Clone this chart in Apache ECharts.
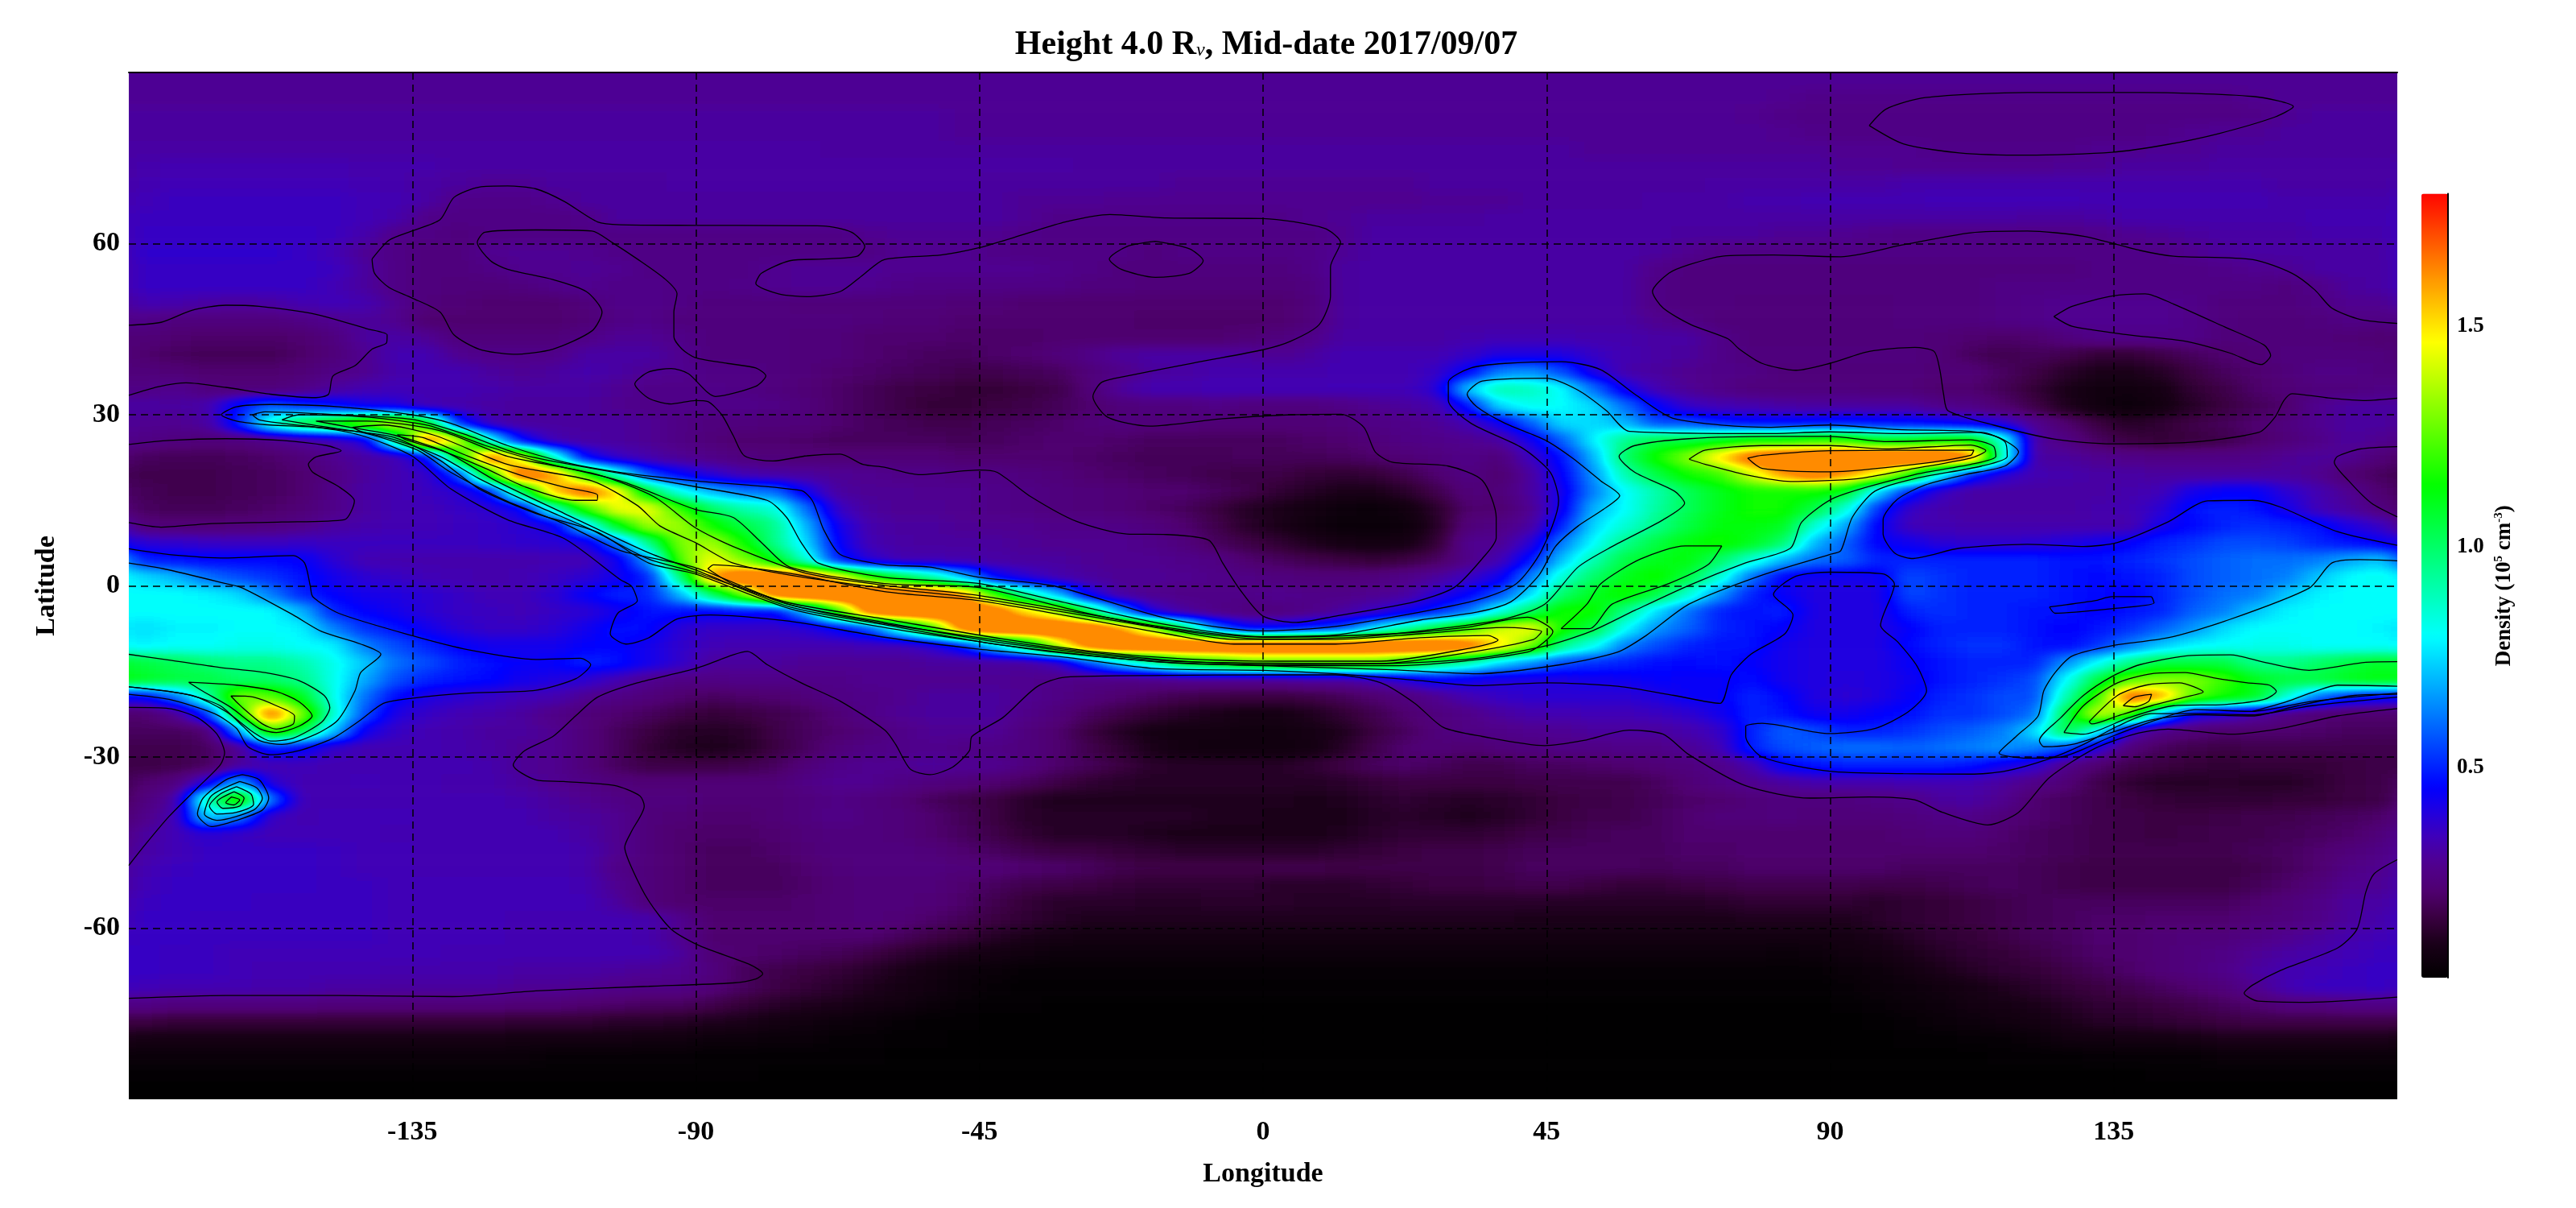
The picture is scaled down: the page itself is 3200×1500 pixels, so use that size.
<!DOCTYPE html>
<html><head><meta charset="utf-8"><title>Height 4.0 Rv density map</title>
<style>html,body{margin:0;padding:0;background:#fff}#chart{width:3200px;height:1500px}</style>
<script src="https://cdn.jsdelivr.net/npm/echarts@6/dist/echarts.min.js"></script>
</head><body>
<svg width="0" height="0" style="position:absolute"><filter id="fieldFilter" x="0" y="0" width="100%" height="100%" color-interpolation-filters="sRGB"><feGaussianBlur stdDeviation="15 7"/><feComponentTransfer><feFuncR id="fr" type="table"/><feFuncG id="fg" type="table"/><feFuncB id="fb" type="table"/></feComponentTransfer></filter></svg>
<div id="chart"></div>
<script>
const titleText='Height 4.0 R{sub|v}, Mid-date 2017/09/07';
const lonTicksHidden=[-180,180], latTicksHidden=[-90,90];
const colorbarLabels=[0.5,1.0,1.5];
const densityMin=0.024, densityMax=1.8, fieldPlateau=1.615;
const colorStops=[[0.02,'#000000'],[0.10,'#1a0018'],[0.16,'#3a0040'],[0.22,'#4f0070'],[0.28,'#50008f'],[0.34,'#4000b8'],[0.40,'#2000e0'],[0.454,'#0000ff'],[0.794,'#00ffff'],[1.133,'#00ff00'],[1.46,'#ffff00'],[1.615,'#ff8c00'],[1.8,'#ff0000']];
// density x100, rows from lat 88.5 down to -88.5 (3 deg), columns lon -177.5 to 177.5 (5 deg)
const densityRows=[
[29,29,29,29,29,29,29,29,29,29,29,29,29,29,29,29,29,29,29,29,29,29,29,29,29,29,29,29,29,29,29,29,29,29,29,29,29,29,29,29,29,29,29,29,29,29,29,29,29,29,29,29,29,29,29,29,29,29,29,29,29,29,29,29,29,29,29,29,29,29,29,29],
[29,29,29,29,29,29,29,29,29,29,29,29,29,29,29,29,29,29,29,29,29,29,29,29,29,29,29,29,29,29,29,29,29,29,29,29,29,29,29,29,29,29,29,29,29,29,29,29,29,29,29,29,28,27,27,27,27,27,27,27,27,27,27,27,27,27,27,28,29,29,29,29],
[30,30,30,30,30,30,30,30,30,30,30,30,30,30,30,30,30,30,30,30,30,30,30,30,30,30,29,29,29,29,29,29,29,29,29,29,29,29,29,29,29,29,29,29,29,29,29,29,29,29,29,28,27,26,26,26,26,26,26,26,26,26,26,26,26,26,26,27,29,30,30,30],
[30,30,30,30,30,30,30,30,30,30,30,30,30,30,30,30,30,30,30,30,30,30,30,30,30,30,29,29,29,29,29,29,29,29,29,29,29,29,29,29,29,29,29,29,29,29,29,29,29,29,29,29,28,27,26,26,26,26,26,26,26,26,26,26,27,28,29,29,30,30,30,30],
[31,31,31,31,31,31,31,31,31,31,31,31,31,31,31,31,31,31,31,31,31,31,30,30,30,30,30,30,30,30,30,30,30,30,30,30,30,30,30,30,30,30,30,30,30,30,29,29,29,29,29,29,29,29,28,28,28,27,27,27,27,27,28,28,29,29,30,30,30,30,30,30],
[32,33,33,33,33,33,33,32,32,32,31,31,31,31,31,31,31,31,31,31,31,31,31,31,31,31,31,31,31,31,30,30,30,30,30,30,30,30,30,30,30,30,30,30,30,30,30,30,30,30,30,30,30,30,29,29,28,28,28,28,28,29,29,30,30,30,31,31,31,31,31,31],
[33,34,34,34,34,34,34,33,32,31,30,29,29,30,30,30,30,31,31,31,31,31,31,31,31,31,31,30,30,30,30,30,30,29,29,29,29,29,29,29,29,30,30,30,30,30,30,30,30,30,31,31,31,31,31,31,32,32,32,32,32,32,32,32,32,32,32,32,31,31,31,31],
[34,35,35,35,35,35,35,34,33,31,27,27,27,28,30,30,30,30,30,30,30,30,30,30,30,30,30,30,29,29,29,28,28,28,28,28,28,28,28,28,28,29,29,29,30,30,30,30,31,31,31,32,32,33,33,33,33,34,34,34,34,34,33,33,33,33,33,33,32,32,32,32],
[35,35,35,35,35,35,35,34,32,27,26,26,26,26,27,30,30,30,30,30,30,30,30,30,30,30,30,30,29,27,27,27,27,27,27,27,27,28,29,30,30,30,30,31,31,31,31,31,31,31,31,31,31,31,31,31,31,31,31,31,30,30,31,32,32,32,32,32,32,33,33,33],
[36,36,36,36,36,36,35,32,27,26,25,26,26,26,26,26,26,26,26,26,26,26,26,28,29,29,29,28,27,26,26,26,26,26,26,26,26,26,28,31,31,31,31,31,31,31,31,31,31,30,30,30,29,29,28,27,26,26,26,26,26,26,27,28,29,30,31,31,31,32,32,32],
[37,37,37,37,37,36,34,29,26,25,25,28,29,29,28,27,26,26,26,26,26,26,26,26,28,28,28,27,26,26,26,26,25,26,26,26,26,27,29,31,31,31,31,31,31,31,31,31,30,28,26,26,26,26,26,26,26,26,26,26,26,26,26,27,27,28,30,31,31,31,31,31],
[36,36,36,36,36,36,35,30,26,25,25,26,28,28,29,28,26,26,26,26,28,29,29,29,28,28,28,28,28,27,26,25,25,25,25,25,25,26,30,31,31,31,31,31,31,31,31,31,27,25,25,25,25,25,25,25,25,25,25,25,25,25,26,26,26,26,27,28,29,31,31,31],
[36,36,36,36,36,36,34,30,26,25,24,24,25,27,28,27,27,26,26,27,28,29,29,28,27,26,26,26,26,26,25,25,24,24,24,24,24,25,30,31,31,31,31,31,31,31,31,31,26,25,25,25,25,25,25,25,25,25,25,26,26,26,26,26,26,26,26,26,25,27,30,31],
[33,32,31,30,31,33,34,33,28,24,23,22,22,22,24,27,27,26,25,25,25,24,24,24,24,24,23,23,22,22,22,22,22,22,22,22,22,24,30,31,31,31,31,31,31,31,31,31,26,25,25,24,24,24,24,24,25,25,25,26,27,28,28,28,28,27,25,25,25,26,28,28],
[27,25,25,25,25,26,28,30,28,22,22,22,22,22,23,26,27,25,25,25,25,25,25,24,23,23,22,22,22,22,22,22,21,21,21,21,22,24,30,31,31,31,31,31,31,31,31,31,28,26,24,24,24,24,24,24,25,25,25,26,27,28,28,28,28,27,25,24,24,25,26,26],
[24,22,21,21,21,22,25,30,31,29,24,24,24,24,26,29,29,27,25,25,25,24,24,22,22,22,21,21,21,22,22,22,22,22,22,23,25,27,31,31,31,31,32,33,33,33,32,32,31,31,27,24,24,24,24,24,24,23,22,21,22,25,27,27,27,27,24,24,24,24,23,22],
[22,20,19,19,19,21,24,28,33,33,28,27,27,27,31,31,31,28,25,25,25,24,24,22,21,20,20,21,22,24,27,30,31,31,31,30,28,30,33,33,33,33,36,40,40,40,36,33,31,30,27,25,25,25,25,25,25,23,20,18,20,18,15,15,17,20,22,23,25,25,25,25],
[24,23,22,22,22,23,26,28,32,33,33,30,29,30,32,31,29,28,26,26,25,24,22,21,20,19,18,18,19,20,24,27,30,31,32,32,32,32,33,33,33,36,45,62,65,55,40,32,30,28,27,26,24,24,24,24,24,23,23,20,17,13,10,10,12,16,20,22,24,26,26,25],
[26,28,25,24,24,26,30,33,34,33,33,32,31,31,31,29,27,27,27,26,25,23,21,19,17,16,15,15,16,18,23,30,33,33,34,34,34,34,34,34,34,38,72,90,88,80,60,42,33,29,27,25,25,25,25,24,24,22,22,19,15,10,7,7,9,14,17,21,23,25,25,26],
[31,30,32,48,58,52,48,42,40,33,32,31,30,30,30,28,27,27,27,27,26,24,21,19,17,15,15,16,17,19,22,24,25,25,26,25,25,25,26,28,30,32,48,75,82,80,75,60,45,36,33,32,31,30,30,30,30,27,26,22,17,11,7,6,8,12,16,19,22,28,30,30],
[28,28,30,50,85,105,115,130,140,110,50,34,30,30,30,30,29,26,25,25,24,24,22,20,19,18,18,19,20,21,23,25,24,24,23,23,23,23,24,26,27,29,33,42,58,75,75,70,55,55,50,47,47,48,50,48,47,45,42,38,28,22,16,12,14,17,19,22,25,28,30,30],
[26,25,24,25,27,30,33,40,95,170,140,80,45,33,31,30,29,26,24,22,22,21,20,20,20,20,19,20,21,22,22,21,20,20,20,20,20,21,22,24,26,27,28,30,42,58,78,95,105,105,110,115,115,120,120,110,110,115,115,85,30,26,20,16,15,16,18,21,24,27,30,28],
[20,19,19,20,21,24,28,31,33,45,115,170,140,85,45,36,32,29,27,25,24,23,23,23,23,23,22,22,22,22,21,20,19,19,19,20,19,19,20,21,23,25,27,24,35,48,70,100,115,130,150,170,180,180,180,180,180,180,165,85,30,30,28,27,26,26,26,27,29,30,28,23],
[18,18,18,19,20,22,26,30,33,36,55,120,175,160,120,85,55,45,38,33,31,30,29,28,27,27,26,26,25,24,22,21,20,19,18,17,17,15,14,15,18,22,26,22,30,45,65,90,105,115,120,140,160,170,160,145,120,80,50,38,33,32,31,31,30,30,30,30,30,28,22,20],
[19,18,18,19,20,22,27,31,33,35,38,50,100,155,170,150,105,82,70,62,60,42,30,29,29,28,28,27,26,25,24,23,22,22,20,18,14,12,10,10,13,18,24,23,30,42,62,80,90,102,110,115,115,115,110,75,50,36,31,31,31,31,31,32,34,42,45,45,38,33,28,22],
[20,19,19,20,21,23,27,31,33,34,36,38,45,85,120,145,145,120,100,90,85,60,36,30,29,29,28,27,26,25,24,23,21,20,16,12,10,8,6,5,7,13,22,22,28,43,70,80,92,102,110,115,115,105,85,52,36,32,31,31,31,31,32,33,38,48,50,48,42,34,30,25],
[24,23,23,24,25,27,30,32,33,34,35,36,38,42,75,110,135,135,115,105,95,70,42,32,30,30,29,28,28,27,27,26,25,22,18,13,10,7,5,5,6,12,24,26,30,50,75,85,95,105,112,112,110,85,68,45,34,33,32,32,32,32,32,32,42,46,50,52,50,48,40,36],
[38,37,36,35,35,36,35,35,35,35,35,36,37,38,40,60,95,130,135,115,95,75,45,33,31,30,30,30,29,28,28,28,27,25,20,17,14,11,9,8,9,14,28,28,38,62,80,95,105,112,115,110,100,70,58,45,43,38,37,37,38,40,42,45,50,52,55,55,54,50,48,44],
[50,48,46,46,46,45,38,33,32,32,32,32,32,33,33,42,65,125,145,130,110,85,50,38,33,33,32,31,30,30,29,28,28,27,26,22,20,18,16,15,16,20,27,33,48,72,90,105,110,112,100,85,70,60,58,50,50,50,50,50,50,48,48,50,52,55,58,60,60,62,68,72],
[75,70,60,55,52,48,42,38,36,34,33,32,33,35,38,42,50,95,160,175,175,170,150,120,105,90,70,45,38,32,30,29,29,28,27,26,25,24,24,25,27,30,35,42,62,85,100,110,115,105,85,60,45,42,42,43,55,52,50,50,50,48,46,48,50,55,58,60,62,72,80,82],
[80,80,78,75,62,50,45,42,40,38,36,34,34,38,45,50,50,70,100,130,170,180,180,180,180,175,160,120,90,70,42,30,28,27,27,27,28,27,27,28,30,38,45,55,75,100,110,115,105,85,65,50,44,40,40,40,55,52,50,50,50,48,46,45,50,55,60,62,72,78,80,80],
[80,80,80,80,80,70,50,45,42,38,36,35,34,36,38,42,48,48,45,48,45,70,120,170,180,180,180,170,150,135,100,65,38,30,27,25,25,27,30,35,42,50,60,82,100,115,115,95,75,60,50,47,50,40,40,40,50,52,50,50,48,48,45,48,50,58,62,72,78,80,80,80],
[75,78,78,80,80,78,62,52,48,42,38,36,36,38,42,48,46,38,36,36,36,38,45,55,85,120,170,180,180,180,175,160,135,100,60,45,45,50,55,75,90,105,120,140,145,115,105,80,65,58,50,48,45,40,40,40,45,50,50,50,48,45,48,52,58,65,75,80,80,80,80,78],
[78,80,80,82,82,80,78,62,55,50,45,42,42,42,45,46,42,37,34,33,33,33,33,34,34,38,50,75,100,140,170,180,180,180,180,180,180,180,180,180,180,180,170,150,130,95,82,62,55,50,48,48,42,40,40,40,46,50,52,52,48,46,52,62,72,78,80,82,82,80,80,80],
[105,102,98,95,95,90,82,72,60,55,50,47,44,45,50,48,42,37,30,30,30,29,29,29,29,30,30,30,30,35,55,75,90,110,115,125,125,125,125,125,115,100,90,75,65,55,52,50,47,46,48,45,42,40,40,40,44,48,50,50,50,65,80,95,105,105,105,95,95,100,105,108],
[108,105,105,100,100,95,82,68,55,50,48,46,42,40,38,33,28,26,26,27,27,27,27,28,28,28,28,29,28,27,26,26,27,28,28,28,29,30,30,33,38,45,42,40,40,40,42,43,45,44,44,47,42,40,39,40,43,48,50,52,55,80,105,125,130,130,120,110,105,105,110,112],
[45,60,90,130,125,110,82,60,46,40,38,36,34,33,28,26,24,22,20,21,22,24,26,27,28,30,30,30,28,26,24,22,20,18,17,16,16,17,19,22,25,28,33,36,37,38,38,38,40,44,44,50,46,40,38,40,44,50,52,55,55,90,120,170,160,125,115,110,85,60,50,45],
[22,28,52,115,170,130,85,55,40,36,33,32,30,27,24,22,20,17,15,16,18,20,23,27,29,30,30,30,27,24,20,17,14,12,10,9,9,11,14,18,22,25,27,30,32,33,34,34,35,37,42,50,48,43,42,45,47,52,52,55,60,105,140,125,70,42,38,32,26,23,22,22],
[20,20,22,65,125,105,72,42,36,33,32,30,30,28,24,20,16,13,12,13,17,20,22,24,27,29,29,29,25,22,16,12,9,8,8,7,7,9,11,16,20,24,26,27,28,29,30,30,30,32,36,50,58,55,50,50,52,55,58,62,75,105,80,35,27,24,22,22,22,21,20,20],
[18,18,20,28,50,45,36,33,33,33,32,31,29,28,24,20,15,12,10,12,16,20,24,26,27,28,26,26,25,22,18,14,10,8,7,7,7,8,12,18,22,24,22,24,25,26,26,27,27,29,33,50,55,58,60,60,58,60,62,65,62,55,38,24,20,18,17,18,18,18,18,18],
[17,18,20,30,33,34,33,33,33,33,33,32,29,28,24,20,17,17,17,18,20,24,27,28,28,30,29,28,25,21,19,16,13,12,12,12,12,14,17,20,21,20,18,18,20,20,21,22,23,25,27,32,45,48,50,50,50,50,48,42,38,27,22,18,16,15,14,15,15,15,16,17],
[22,25,40,70,38,33,33,34,33,33,32,32,30,28,26,24,23,23,23,23,23,26,28,28,26,25,24,22,20,17,14,13,12,12,12,12,12,12,13,15,16,16,16,16,17,18,18,18,20,23,26,28,30,32,32,32,33,33,33,30,27,23,18,14,12,12,13,12,12,14,16,17],
[25,31,90,125,60,33,33,33,33,33,33,33,32,30,28,26,25,25,23,23,23,25,26,25,23,20,18,16,13,11,11,11,11,11,11,11,11,10,11,13,14,13,12,13,14,16,17,18,19,21,22,24,25,25,25,26,27,30,31,28,22,20,18,16,15,14,14,14,15,15,16,17],
[27,33,75,62,35,33,34,34,34,33,33,33,33,31,30,28,24,23,22,22,23,25,27,25,24,22,19,16,13,12,12,12,12,12,11,11,10,10,10,12,13,12,11,12,14,16,18,18,20,22,24,24,25,24,24,24,25,26,27,24,22,20,18,17,16,16,17,18,18,19,20,21],
[30,34,38,36,34,34,34,34,33,33,33,33,33,33,31,28,24,22,21,21,22,24,25,25,24,22,20,17,14,12,12,12,11,10,10,10,10,10,11,13,14,14,14,15,17,18,19,20,20,22,22,22,22,22,22,22,23,24,24,22,20,19,18,17,16,17,18,18,19,20,21,24],
[31,34,36,36,36,36,35,34,34,33,33,33,33,33,32,28,24,22,20,20,21,23,25,25,25,24,22,20,18,16,16,15,14,13,13,13,13,13,14,15,16,17,17,18,19,20,20,20,20,21,21,22,22,22,22,22,22,22,22,21,20,19,18,18,18,18,18,19,20,22,24,26],
[33,35,36,36,36,36,35,34,34,33,33,33,33,33,32,27,24,22,20,20,20,22,24,25,25,25,24,23,22,21,20,18,17,17,17,17,18,18,17,17,17,17,17,18,20,20,20,20,19,20,20,21,21,21,21,21,20,20,20,20,19,18,17,17,17,17,17,18,20,22,26,28],
[34,36,36,36,36,36,35,35,34,34,34,34,34,34,33,28,24,22,20,20,20,21,23,24,24,24,22,20,18,17,16,15,14,14,14,14,13,13,13,14,15,16,16,17,18,18,16,15,15,16,17,18,18,18,18,17,17,18,19,20,19,18,17,17,17,17,17,19,21,24,28,29],
[35,36,36,36,35,35,35,35,34,34,34,34,34,34,34,30,24,22,21,21,21,22,23,24,24,23,21,18,15,13,13,13,12,12,13,13,13,12,12,12,13,13,13,13,13,12,12,12,12,12,13,14,14,14,14,13,14,15,16,18,19,20,20,20,20,20,20,22,24,26,30,31],
[36,36,35,35,35,35,35,35,34,34,34,34,33,33,33,33,32,28,22,22,22,22,23,24,23,21,19,16,14,12,11,11,11,11,11,11,11,11,11,11,11,11,11,11,10,10,10,10,10,10,10,11,11,11,11,13,14,15,16,18,19,20,21,21,22,22,22,24,25,27,30,32],
[36,36,35,35,35,35,35,35,34,34,34,34,33,33,33,33,32,28,22,22,22,22,22,22,20,17,15,12,10,9,8,8,8,8,8,8,8,8,8,8,8,8,8,8,8,8,8,8,8,8,8,8,8,8,9,10,12,14,15,17,19,20,22,22,23,24,24,26,28,30,32,34],
[36,35,35,34,34,34,34,34,34,34,33,33,33,33,33,33,33,30,23,22,21,20,19,17,14,12,10,8,7,6,6,6,6,6,6,6,6,6,6,6,6,6,6,6,6,6,6,6,6,6,6,6,5,6,7,8,10,12,14,15,17,19,21,22,23,25,26,29,31,32,34,35],
[36,35,35,34,33,33,33,33,32,32,32,32,31,31,31,30,29,28,25,20,18,16,15,13,10,8,6,5,4,4,4,4,4,4,4,4,4,4,4,4,4,4,4,4,4,4,4,4,4,4,4,4,4,4,5,6,8,10,12,14,15,17,19,21,23,25,27,30,33,34,35,36],
[34,33,33,33,32,32,31,31,30,30,30,30,29,29,28,27,26,26,23,20,17,15,13,11,9,7,5,4,3,3,3,3,3,3,3,3,3,3,3,3,3,3,3,3,3,3,3,3,3,3,3,3,3,3,4,5,6,7,9,11,13,15,16,18,20,22,24,28,33,35,35,36],
[26,25,25,25,25,25,24,24,24,24,24,24,23,23,22,21,20,20,18,15,13,11,10,8,7,5,4,3,3,2,2,2,2,2,2,2,2,2,2,2,2,2,2,2,2,2,2,2,2,2,2,2,2,2,3,4,5,6,8,9,10,12,14,15,16,18,20,22,25,25,26,26],
[16,15,15,15,15,15,15,15,15,15,15,15,14,14,14,13,13,12,11,10,8,7,6,5,4,3,3,2,2,2,2,2,2,2,2,2,2,2,2,2,2,2,2,2,2,2,2,2,2,2,2,2,2,2,2,3,4,5,6,7,8,10,12,13,14,15,16,17,17,17,17,17],
[9,9,9,9,9,9,9,9,9,9,9,9,8,8,8,8,7,7,6,6,5,5,4,4,3,3,2,2,2,2,2,2,2,2,2,2,2,2,2,2,2,2,2,2,2,2,2,2,2,2,2,2,2,2,2,2,3,3,4,4,5,7,7,8,8,9,10,10,10,10,10,10],
[5,5,5,5,5,5,5,5,5,5,5,5,5,4,4,4,4,4,3,3,3,3,3,3,2,2,2,2,2,2,2,2,2,2,2,2,2,2,2,2,2,2,2,2,2,2,2,2,2,2,2,2,2,2,2,2,2,2,2,3,3,3,4,4,4,4,5,5,5,5,5,5],
[3,3,3,3,3,3,3,3,3,3,3,3,3,3,3,3,3,3,3,3,2,2,2,2,2,2,2,2,2,2,2,2,2,2,2,2,2,2,2,2,2,2,2,2,2,2,2,2,2,2,2,2,2,2,2,2,2,2,2,2,2,2,2,2,3,3,3,3,3,3,3,3],
[2,2,2,2,2,2,2,2,2,2,2,2,2,2,2,2,2,2,2,2,2,2,2,2,2,2,2,2,2,2,2,2,2,2,2,2,2,2,2,2,2,2,2,2,2,2,2,2,2,2,2,2,2,2,2,2,2,2,2,2,2,2,2,2,2,2,2,2,2,2,2,2]
];
const contourCurves=[
[-141.4,57.3,-138.7,60.6,-135.1,62.2,-130.6,64.2,-128.4,68.1,-124.4,69.9,-119.9,70.1,-115.4,69.6,-110.9,67.4,-105.6,63.8,-102,63.3,-90.1,63.2,-69.8,63.1,-65.3,62,-63.2,59.5,-64.4,57.8,-69.8,57.3,-75.1,57,-79.6,54.8,-80.5,53,-76.9,51.2,-72.4,50.7,-67.1,51.6,-63.5,54.5,-60.1,57.2,-51.1,58,-45,59.3,-37.7,61.7,-31.4,63.8,-24.3,65.1,-15.3,64.5,0,64.4,9.7,62.7,12.3,60.2,10.7,55.9,10.7,50.8,8.9,45.8,4.4,42.9,0,41.4,-10,39.3,-21.6,36.8,-25.6,35.7,-27,33.2,-24.7,29.6,-18,28,-6.4,29.3,4.4,30,12.4,30.1,16,27.8,17.8,23.5,20.5,21.7,29.4,21,34.8,18.5,37,12,37,8.4,34.8,4.8,30.3,-.3,24,-2.8,11.5,-5.3,5.3,-6.4,0,-5.3,-3.7,-.6,-6.4,4,-8.6,8,-15.3,9,-21.6,9.1,-29.6,11.3,-36.8,15.6,-42.2,19.9,-45,20.3,-54.7,19.5,-60.1,20.8,-63.5,21.3,-67.1,23.1,-72.4,22.8,-77.8,21.9,-82.3,22.8,-84.1,26.4,-85.9,30,-88.1,32.3,-90.1,32.5,-93.9,31.9,-97.5,32.9,-99.7,35.4,-97.5,37.5,-93.9,38.1,-91.2,37.2,-86.9,33.2,-80.5,35,-78.9,36.8,-80.5,38.2,-85,39,-90.1,40,-92.2,41.5,-93.5,43.7,-93.5,48,-93,51.2,-94.8,53.7,-99.3,57.3,-103.3,60.2,-106.5,62.2,-115.4,62.4,-123.5,62,-124.7,60.2,-122.6,57,-119.9,55.5,-112.7,53.7,-107.4,51.6,-104.9,48,-106.5,44.7,-112.7,41.5,-119,40.6,-124.4,41.5,-128.4,44,-130.6,48,-135.1,50.5,-138.7,52.3,-141,54.8,-141.4,57.3],
[-17.1,60.4,-11.7,59.1,-9.5,57,-11.7,54.8,-17.1,54.1,-22.5,55.5,-24.4,57.3,-21.6,59.5,-17.1,60.4],
[-180,45.7,-174.9,46.2,-170,48.3,-164.6,49.2,-159.3,49,-150.3,47.6,-142.3,45.1,-139,44,-139.1,42.6,-141.4,41.5,-144.1,38.6,-147.6,36.8,-148.3,33.6,-150.3,33,-157.5,33.6,-164.6,34.8,-170.9,35.6,-175.4,34.9,-180,33.4],
[-180,24.8,-173.6,25.5,-164.6,25.8,-155.7,25.5,-148.6,24.6,-146.3,23.7,-150.3,22.6,-151.5,21.3,-150.8,19.9,-146.7,17.4,-144.2,14.9,-145.8,11.6,-155.7,11.2,-167.3,10.9,-174.9,10.3,-180,11.1],
[96.2,80.7,98.9,83.6,105.1,85.6,121.3,86.5,139.2,86.5,157.1,85.8,163.5,84,160.6,82.2,151.7,79.3,143.6,77.4,134.7,76,121.3,75.5,110.5,75.9,101.6,77.5,96.2,80.7],
[180,46,174.1,46.7,169.6,48.7,166.9,51.9,163.3,54.8,157.1,57.2,144.5,57.8,139.2,58.8,130.2,61.3,121.3,62.2,112.3,61.9,101.6,59.8,91.7,57.7,81,58,72.9,57.8,67.6,56.3,64.4,54.8,61.8,51.6,63.5,48.7,67.9,45.8,73.8,43.3,75.6,41.5,79.2,39,84.6,37.8,89.9,39,96.2,41.1,103.4,41.8,106.5,41.1,107.4,37.9,108,33.6,108.7,30.7,115.9,28.2,125.7,25.7,134.7,24.9,146.3,25.1,158,26.9,160.6,29.6,162,32.5,163.3,33.7,168.7,33,175,32.5,180,32.9],
[125.5,47.2,128.4,49,134.7,50.8,140,51.2,144.5,49.4,152.6,45.4,158.9,42.2,159.9,40.4,158.4,38.8,153.5,40.8,146.3,42.9,137.4,44,128.4,45.5,125.5,47.2],
[180,24.4,174.1,24,170.5,22.7,170,21.7,172.3,18.4,175.9,14.5,180,12.1],
[-180,-49,-177.2,-45.1,-173.6,-40.4,-169.1,-35.4,-165.5,-31.4,-164.8,-29.3,-166,-26,-169.1,-23.1,-173.6,-21.5,-180,-21.3],
[-180,-72.3,-164.6,-71.8,-146.7,-71.8,-128.7,-72,-115.4,-71,-97.5,-70.2,-84.1,-69.6,-80.5,-68.9,-79.4,-68,-81.4,-66.4,-89.4,-63.1,-93.9,-60.2,-97.5,-55.2,-100.2,-49.4,-101.3,-45.8,-100.2,-43,-98.2,-38.6,-98.9,-36.8,-102.9,-35,-111,-34.3,-115.4,-34,-119,-31.4,-117.2,-28.9,-112.7,-26.4,-109.1,-22.8,-105.6,-19.5,-99.3,-17,-90.1,-14.5,-84.1,-12.1,-81.8,-11.5,-78.7,-13.8,-73.3,-17,-67.1,-20.2,-60,-25.3,-58.3,-27.8,-56,-32.1,-52.9,-33.1,-49.3,-31.8,-46.6,-28.9,-46.2,-26.4,-41.3,-23.1,-35.9,-17.7,-31.4,-16,-15.3,-15.7,0,-15.6,11.5,-15.6,18.7,-17,24.1,-20.6,28.6,-24.8,34.8,-26.4,44.7,-28,50.9,-27.1,58.1,-25.3,63.5,-26,67.6,-29.6,76.5,-35,86.8,-37.2,96.2,-37,103.4,-37.5,107.8,-39.7,115,-41.9,119.9,-39.7,124.8,-33.6,132,-28.5,138.3,-26,143.6,-25.1,153.5,-26,161.5,-25,170.5,-22.8,180,-21.5],
[180,-48,176.3,-50.5,175,-53.7,173.6,-60.2,170.5,-63.5,161.5,-67.4,157,-70,155.7,-71.4,157.9,-72.8,166,-73,180,-72.1],
[-180,6.5,-173.6,5.5,-164.6,4.9,-153.9,5.3,-152.1,4,-151.2,0,-150.8,-1.9,-146.7,-4.8,-135.1,-8.7,-126.1,-11.2,-115.4,-12.9,-108.3,-12.7,-106.7,-13.8,-109.1,-16.3,-115.4,-18.3,-126.1,-18.8,-135.1,-19.7,-139.6,-20.6,-143.2,-23.5,-147.6,-26.7,-153,-28.9,-157.5,-29.6,-161.1,-28.2,-162.9,-25,-166.4,-22.4,-173.6,-19.9,-180,-19],
[180,-19.5,166.5,-21,157,-22.6,148.1,-22.4,141,-22.4,135.6,-24.6,130.2,-27.8,124.8,-30.3,117.7,-32.5,112.3,-33,101.6,-32.9,89.9,-32.5,79.2,-30,76.6,-26.4,76.6,-24.6,79.2,-24.1,89.9,-25.9,97.1,-25,102.5,-22,105.3,-18.4,103.8,-14.1,100.7,-9.8,98,-6.9,100.2,.3,98.4,2.1,89.9,2.4,84.6,1.7,81,-1.5,84.1,-5.1,82.8,-8.4,77.4,-12,74.3,-15.6,72.5,-20.6,65.2,-19.2,56.3,-17.6,44.9,-17,33.9,-17.5,24.9,-16.6,11.5,-15.4,0,-14.8,-17.1,-14.5,-31.4,-12.5,-45,-11.1,-60.1,-9,-75.1,-6.2,-87.7,-5.1,-93,-5.8,-97.5,-9.1,-101.1,-10.2,-103.6,-8.4,-102.4,-4.8,-99.3,-2.6,-100.2,-.1,-102,1.1,-110.9,8.3,-119.9,11.6,-128.9,17,-135.1,22.8,-143.2,26.4,-150.3,27.8,-157.5,28.2,-162.9,28.9,-165.3,30,-162.9,31.4,-157.5,31.8,-146.7,31.4,-135.1,30,-128.9,28.5,-119.9,24.6,-110.9,21.7,-102,19.9,-90.1,18.4,-73.3,16.7,-71.5,14.9,-69.7,9.8,-67.1,5.5,-60.1,3.7,-52.9,3.3,-45,1.5,-33.2,0,-15.3,-5.7,0,-7.9,11.5,-7.1,24.9,-4.6,33.9,-2.5,40.2,.4,44.2,6.2,46.9,14.9,45.6,19.9,41.1,24.2,33,28.5,29.4,32.5,29.4,35.7,33,38.2,38.4,39,47.4,39.3,53.6,37.9,59,33.6,65.3,29.3,80.3,27.8,89.9,28.2,100.7,27.4,112.3,27.1,116.8,26,119.9,23.5,117.7,21,111.4,19.5,105.1,17.7,100.7,15.2,98.4,11.6,98.4,9.1,100.2,5.8,102.9,4.8,110.5,6.6,121.3,7.3,130.2,6.9,135.6,7.6,143.6,11.2,149.9,14.9,157,15,161.5,13.8,170.5,9.5,180,7.1],
[-180,4,-174.5,3,-164.6,.4,-161.9,-.4,-153.9,-5.1,-149.4,-8,-143.2,-10.2,-140,-12,-143.2,-15.2,-144.1,-18.4,-146.8,-23.5,-150.3,-26,-155.7,-27.8,-159.3,-27.1,-161.9,-24.6,-165.5,-21,-170.9,-19,-180,-17.7],
[180,-18.8,166,-20.3,157,-22,148,-21.7,141.8,-23.5,134.7,-26.4,126.6,-30,121.3,-30.2,116.8,-29.3,119.5,-26.4,123,-22.8,123.9,-18.4,125.7,-15.2,128.4,-12.3,134.7,-10.5,143.6,-9.1,152.6,-6.2,166,-.4,169.6,4,174,4.6,180,4.4],
[180,-13.3,175,-13.4,166,-14.8,158.9,-13.4,153.5,-12.1,146.3,-12.3,139.2,-13.8,134.7,-15.9,130.2,-19.2,126.6,-23.1,123.2,-27.1,123.9,-28.2,128.4,-27.8,134.7,-25.7,141,-23.5,148.1,-22.6,157,-22.8,164.2,-21,173.2,-19.2,180,-19],
[180,-17.6,170.5,-17.4,166.9,-18.5,162.4,-20.3,157,-22],
[127.1,-25.7,130.2,-21,135.6,-17,141,-15.4,146.3,-15.2,150.8,-16.1,156.2,-17,159.7,-17.4,160.8,-18.5,158.9,-19.9,152.6,-20.8,144.5,-21,137.4,-23.1,130.2,-26,127.1,-25.7],
[131.1,-23.8,135.6,-19.2,140.1,-17.4,145.4,-17,149.2,-18.6,146.3,-19.5,141,-21,135.6,-22.8,131.5,-24.2,131.1,-23.8],
[136.5,-21,138.3,-19.5,141,-19,140.5,-20.3,138.3,-21.2,136.5,-21],
[124.8,-3.7,132,-2.6,134.7,-1.9,140.9,-1.9,141.4,-3,134.7,-4,125.7,-4.8,124.8,-3.7],
[-180,-12,-173.6,-13,-165.5,-14.3,-158.4,-15.2,-153,-16.6,-149,-19.2,-148.1,-21.3,-149.4,-23.9,-153.9,-26.7,-157.5,-27.2,-160.2,-25.7,-164.6,-22,-170,-19.2,-180,-17.7],
[-170.5,-16.9,-162.9,-17.4,-156.6,-18.5,-153,-20.3,-150.9,-22.8,-153,-24.6,-156.6,-25.7,-159.3,-25,-163.8,-21.3,-168.2,-18.5,-170.5,-16.9],
[-163.8,-19.3,-160.2,-19.5,-156.6,-21,-153.7,-22.8,-153.9,-24.2,-156.6,-25.1,-158.8,-24.2,-162,-21.3,-163.8,-19.3],
[-162,-33.1,-159.3,-34,-157.8,-37.2,-158.8,-39.3,-162.9,-41.1,-166.9,-42.2,-169.1,-40,-168.2,-37.2,-164.6,-34,-162,-33.1],
[-162.4,-34.3,-159.7,-35.4,-158.8,-37.2,-160.2,-39.3,-166,-41.1,-168,-40,-166.9,-36.8,-162.4,-34.3],
[-162.9,-35.2,-160.6,-36.5,-160.2,-38.3,-162.9,-39.7,-166,-40,-167.2,-38.6,-165.5,-36.5,-162.9,-35.2],
[-163.3,-36.1,-161.7,-37.2,-162.4,-38.6,-165.1,-39,-166,-37.9,-163.3,-36.1],
[-163.7,-37,-162.4,-37.5,-163.3,-38.4,-164.6,-38,-163.7,-37],
[-88.1,3,-87.2,3.7,-75.1,2.2,-60.1,-1,-45,-2.6,-15.3,-8.4,-4.6,-10.2,11.5,-10.2,24.9,-9.1,35.7,-8.7,37.3,-9.5,33,-10.9,18.7,-13.2,2.6,-13.2,-12.6,-12.8,-26.1,-11.6,-41.3,-9.3,-60.1,-5.8,-75.1,-3,-84.1,.3,-88.1,3],
[-160.4,30,-158.4,30.5,-146.7,30,-135.1,29.2,-127,26.7,-118,23.1,-106.5,20.6,-90.1,17.4,-78.7,15,-75.6,12,-73.3,7.6,-70.6,4,-60.1,1.5,-45,.4,-33.2,-2.5,-15.3,-6.8,0,-8.9,11.5,-8.6,24.9,-6,33.9,-4.6,39.3,-2.8,43.8,1.9,46.4,6.9,50,10.5,54,13.4,56.6,15.8,53.6,18.4,49.1,22.4,44.7,25.6,38.4,28.5,33.9,31.4,32.4,33.6,34.8,35.9,44.9,36.4,50,34.3,54.5,30.7,58.1,27.1,80.3,26.7,89.9,27,101.6,26.7,114,26.9,117.7,25.3,118.1,22.7,114,21,103.4,18.8,97.1,16.6,93.5,12,91.7,6.2,89.9,5.5,79.2,1.9,67.6,-3.2,60.8,-8.7,56.3,-11.6,47.3,-13.8,33.9,-15.4,20.5,-14.7,2.6,-14.1,-15.3,-13.4,-33.2,-11.6,-45,-9.8,-60.1,-7.3,-75.1,-4,-90.1,2.1,-97.5,4,-105.6,9.4,-115.4,12.7,-124.4,17,-130.6,22,-137.8,26,-146.7,27.4,-155.7,28.5,-159.3,29.1,-160.4,30],
[-155.7,29.1,-153,30,-142.3,29.6,-132.4,28.1,-123.4,24.6,-114.5,21.7,-102,18.4,-90.1,13.4,-84.1,12,-79.6,7.6,-75.1,3.3,-60.1,.4,-45,-.3,-28.7,-4.6,-15.3,-7.5,0,-9.3,16,-8.9,29.5,-7.3,38.4,-5.8,44.7,-3.2,50,3.3,55.4,6.9,63.5,11.6,66.9,14.5,65.3,16.6,59,19.9,56.5,22.7,59,24.6,67.6,25.8,81,26.2,89.9,26.2,98.9,25.3,112.3,25.6,115.9,24.5,116.3,22.7,112.3,21.3,103.4,19.5,90.8,15.5,85.5,11.2,83.7,6.6,76.5,4,67.6,.1,59,-4.3,52,-8,44.9,-10.5,33.9,-12.7,20.5,-13.6,2.6,-13.8,-15.3,-13,-33.2,-10.9,-45,-9.1,-60.1,-6.6,-75.1,-3.3,-90.1,3.2,-102,6.2,-110.9,10.9,-119.9,14.8,-128.9,19.9,-134.2,23.8,-142.3,26.7,-150.3,28.1,-155.7,29.1],
[72.8,7,67,7,59.9,4.7,53.6,.4,51.4,-3.2,47.3,-7.5,51.8,-7.5,55.4,-3.2,64.4,.4,70.6,3.7,72.8,7],
[67.6,22.2,70.2,23.8,79.2,24.6,89.9,24.6,98.9,24,112.3,24.7,114.7,23.7,112.3,22.4,103.4,20.6,94.4,18.8,83.7,18.3,76.5,19.5,70.2,21.3,67.6,22.2],
[76.9,22.4,79.2,22.9,89.9,23.7,112.8,23.8,112.3,22.9,103.4,21.3,89.9,20,79.2,20.6,76.9,22.4],
[-137.4,26.5,-133.3,26,-126.1,22.7,-118.1,19.5,-110.9,17.3,-105.6,15.9,-105.7,15,-109.1,15,-117.2,17.4,-123.4,20.6,-130.6,23.8,-136,25.6,-137.4,26.5],
[-144.5,27.8,-139.6,28.2,-131.5,26.4,-119.9,21.3,-106.5,18.4,-99.3,14.1,-95.7,10.5,-90.1,7.6,-84.1,4,-75.1,1.9,-60.1,-.4,-45,-2.2,-15.3,-7.6,-4.6,-9.4,11.5,-9.4,24.9,-8.4,38.4,-7.3,44.2,-8,42.9,-9.4,33,-11.6,18.7,-13.6,-12.6,-13.3,-41.3,-10,-60.1,-6.4,-75.1,-3.3,-90.1,2.4,-97.5,4.7,-106.5,9.8,-115.4,14.1,-124.4,18.8,-130.6,22.7,-137.8,25.6,-143.2,27.1,-144.5,27.8],
[-150.3,28.9,-142.3,28.9,-130.6,27.2,-119.9,22.7,-105.6,19.5,-96.6,15.6,-90.1,10.2,-84.1,6.9,-72.5,2.2,-60.1,.1,-45,-1.7,-15.3,-7.3,0,-9,20.5,-8.4,32.1,-7.3,42,-5.5,46,-8,42,-11.6,20.5,-14,-12.6,-13.6,-41.3,-10.4,-60.1,-6.8,-75.1,-3.7,-90.1,2.8,-97.5,5.8,-110.9,12.7,-121.7,18.4,-129.7,23.5,-137.8,26.4,-144.9,27.8,-150.3,28.9]
];

const FONT='"Liberation Serif","Times New Roman",serif';
const L=160,T=90,W=2818,H=1275;
const nCols=densityRows[0].length,nRows=densityRows.length;
const cw=W/nCols,ch=H/nRows;
function hex(c){return [parseInt(c.slice(1,3),16),parseInt(c.slice(3,5),16),parseInt(c.slice(5,7),16)];}
function sample(v){
  if(v<=colorStops[0][0])return hex(colorStops[0][1]);
  for(let i=1;i<colorStops.length;i++){
    if(v<=colorStops[i][0]){
      const a=colorStops[i-1],b=colorStops[i],t=(v-a[0])/(b[0]-a[0]),p=hex(a[1]),q=hex(b[1]);
      return p.map((x,k)=>x+(q[k]-x)*t);
    }
  }
  return hex(colorStops[colorStops.length-1][1]);
}
const rampN=256,tr=[],tg=[],tb=[],barColors=[];
for(let i=0;i<rampN;i++){
  const v=densityMin+(densityMax-densityMin)*i/(rampN-1);
  const c=sample(Math.min(v,fieldPlateau));
  tr.push((c[0]/255).toFixed(4));tg.push((c[1]/255).toFixed(4));tb.push((c[2]/255).toFixed(4));
  if(i%2===0)barColors.push('rgb('+sample(v).map(Math.round).join(',')+')');
}
document.getElementById('fr').setAttribute('tableValues',tr.join(' '));
document.getElementById('fg').setAttribute('tableValues',tg.join(' '));
document.getElementById('fb').setAttribute('tableValues',tb.join(' '));
// field cells, with one wrapped cell beyond every edge so that the soft rendering stays even up to the frame
const cells=[];
for(let r=-1;r<=nRows;r++){
  const row=densityRows[Math.max(0,Math.min(nRows-1,r))];
  for(let c=-1;c<=nCols;c++){
    cells.push([c+1,r+1,row[(c+nCols)%nCols]/100]);
  }
}
const xCats=[],yCats=[];
for(let c=-1;c<=nCols;c++)xCats.push(String(-177.5+5*c));
for(let r=-1;r<=nRows;r++)yCats.push(String(88.5-3*r));
const lineSeries=contourCurves.map((flat,i)=>{
  const d=[];for(let k=0;k<flat.length;k+=2)d.push([flat[k],flat[k+1]]);
  return {type:'line',name:'contour'+i,xAxisIndex:1,yAxisIndex:1,data:d,zlevel:1,smooth:0.25,showSymbol:false,symbol:'none',silent:true,animation:false,clip:true,lineStyle:{color:'#000',width:1.3},z:5};
});
const axisFont={color:'#000',fontFamily:FONT,fontWeight:'bold',fontSize:34};
const chart=echarts.init(document.getElementById('chart'),null,{renderer:'canvas',width:3200,height:1500});
chart.setOption({
  animation:false,
  title:{text:titleText,left:1568,top:30,textAlign:'center',zlevel:1,textStyle:{color:'#000',fontFamily:FONT,fontWeight:'bold',fontSize:42,rich:{sub:{fontFamily:FONT,fontStyle:'italic',fontWeight:'normal',fontSize:24,padding:[14,0,0,0],color:'#000'}}}},
  grid:[
    {left:L-cw,top:T-ch,width:W+2*cw,height:H+2*ch,show:false,zlevel:0},
    {left:L,top:T,width:W,height:H,show:false,zlevel:1,z:6},
    {left:3008,top:240.5,width:33,height:973.5,show:false,zlevel:1}
  ],
  xAxis:[
    {type:'category',gridIndex:0,data:xCats,show:false},
    {type:'value',gridIndex:1,min:-180,max:180,interval:45,zlevel:1,z:6,
     axisLine:{show:false},axisTick:{show:false},
     splitLine:{show:true,showMinLine:false,showMaxLine:false,lineStyle:{color:'#000',width:1.5,type:[9,6]}},
     axisLabel:{...axisFont,margin:24,formatter:v=>lonTicksHidden.includes(v)?'':String(v)},
     name:'Longitude',nameLocation:'middle',nameGap:76,nameTextStyle:axisFont},
    {type:'value',gridIndex:2,min:0,max:1,show:false},
    {type:'value',gridIndex:1,position:'top',min:-180,max:180,interval:45,zlevel:1,z:6,
     axisLine:{show:true,onZero:false,lineStyle:{color:'#000',width:2}},axisTick:{show:false},axisLabel:{show:false},splitLine:{show:false}}
  ],
  yAxis:[
    {type:'category',gridIndex:0,data:yCats,inverse:true,show:false},
    {type:'value',gridIndex:1,min:-90,max:90,interval:30,zlevel:1,z:6,
     axisLine:{show:false},axisTick:{show:false},
     splitLine:{show:true,showMinLine:false,showMaxLine:false,lineStyle:{color:'#000',width:1.5,type:[9,6]}},
     axisLabel:{...axisFont,margin:11,padding:[6,0,0,0],formatter:v=>latTicksHidden.includes(v)?'':String(v)},
     name:'Latitude',nameLocation:'middle',nameGap:85,nameRotate:90,nameTextStyle:axisFont},
    {type:'value',gridIndex:2,position:'right',min:densityMin,max:densityMax,zlevel:1,z:6,
     axisLine:{show:true,onZero:false,lineStyle:{color:'#000',width:2}},axisTick:{show:false},splitLine:{show:false},
     axisLabel:{color:'#000',fontFamily:FONT,fontWeight:'bold',fontSize:27,margin:11,customValues:colorbarLabels,formatter:v=>v.toFixed(1)},
     name:'Density (10{sup|5} cm{sup|-3})',nameLocation:'middle',nameRotate:90,nameGap:56,
     nameTextStyle:{color:'#000',fontFamily:FONT,fontWeight:'bold',fontSize:27,rich:{sup:{fontFamily:FONT,fontWeight:'bold',fontSize:15,padding:[0,0,14,0],color:'#000'}}}}
  ],
  visualMap:[
    {type:'continuous',seriesIndex:0,dimension:2,min:densityMin,max:densityMax,show:false,inRange:{color:['#000000','#ffffff']},zlevel:1},
    {type:'continuous',seriesIndex:[],min:densityMin,max:densityMax,show:true,calculable:false,realtime:false,hoverLink:false,left:3008,top:240.5,itemWidth:33,itemHeight:973.5,text:null,showLabel:false,textStyle:{fontSize:0},inRange:{color:barColors},zlevel:1,padding:0}
  ],
  series:[
    {type:'heatmap',name:'Density',xAxisIndex:0,yAxisIndex:0,data:cells,zlevel:0,progressive:0,silent:true,animation:false,emphasis:{disabled:true},itemStyle:{borderWidth:0}},
    ...lineSeries
  ]
});
function soften(){
  const cv=document.querySelector('#chart canvas[data-zr-dom-id="zr_0"]');
  if(cv){cv.style.filter='url(#fieldFilter)';cv.style.clipPath='inset('+T+'px '+(3200-L-W)+'px '+(1500-T-H)+'px '+L+'px)';}
}
soften();
chart.on('finished',soften);
</script>
</body></html>
